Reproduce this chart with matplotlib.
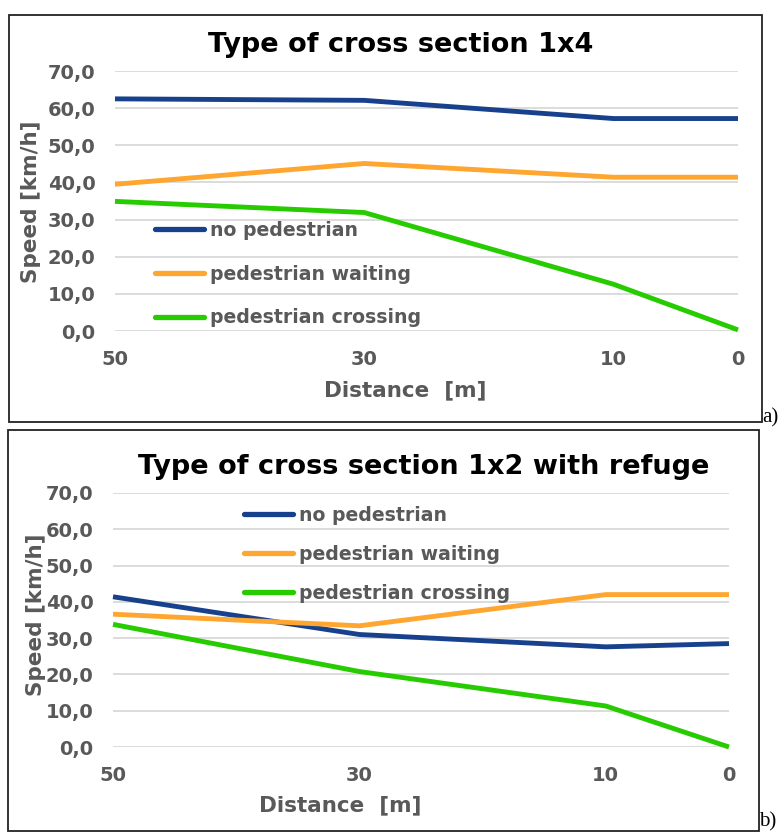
import matplotlib
matplotlib.use("Agg")
import matplotlib.pyplot as plt
from matplotlib.patches import Rectangle

# =========================================
# DATA
# =========================================
distance = [50, 30, 10, 0]
series_names = ["no pedestrian", "pedestrian waiting", "pedestrian crossing"]

speed_1x4_none = [62.5, 62.1, 57.2, 57.2]
speed_1x4_waiting = [39.5, 45.1, 41.4, 41.4]
speed_1x4_crossing = [34.9, 31.9, 12.6, 0.3]

speed_1x2_none = [41.4, 31.0, 27.6, 28.5]
speed_1x2_waiting = [36.6, 33.4, 42.0, 42.0]
speed_1x2_crossing = [33.8, 20.8, 11.3, 0.0]

y_ticks = [0, 10, 20, 30, 40, 50, 60, 70]
y_tick_labels = ["0,0", "10,0", "20,0", "30,0", "40,0", "50,0", "60,0", "70,0"]
x_ticks = [50, 30, 10, 0]
x_tick_labels = ["50", "30", "10", "0"]

titles = ["Type of cross section 1x4", "Type of cross section 1x2 with refuge"]

colors = ["#17418c", "#ffa630", "#26cc00"]
gray = "#595959"

W, H = 782, 832
plt.rcParams["font.family"] = ["DejaVu Sans"]
plt.rcParams["font.weight"] = "bold"

fig = plt.figure(figsize=(W / 100, H / 100), dpi=100)


def fx(x):
    return x / W


def fy(y):
    return 1 - y / H


def panel(box, plot, data, title, title_pos, xlabel_pos, ylabel_pos,
          legend_pos, legend_spacing, tag, tag_pos):
    # outer box
    bx0, by0, bx1, by1 = box
    fig.patches.append(Rectangle(
        (fx(bx0), fy(by1)), fx(bx1 - bx0), (by1 - by0) / H,
        transform=fig.transFigure, fill=False,
        edgecolor="#222222", linewidth=1.3
    ))

    x0, y0, x1, y1 = plot
    ax = fig.add_axes([fx(x0), fy(y1), fx(x1 - x0), (y1 - y0) / H])

    for values, name, c in zip(data, series_names, colors):
        ax.plot(distance, values, color=c, linewidth=3.5,
                solid_capstyle="butt", label=name, zorder=3,
                clip_on=False)

    ax.set_xlim(50, 0)
    ax.set_ylim(0, 70)
    ax.set_yticks(y_ticks)
    ax.set_yticklabels(y_tick_labels)
    ax.set_xticks(x_ticks)
    ax.set_xticklabels(x_tick_labels)
    ax.tick_params(axis="y", length=0, pad=14, labelsize=14,
                   labelcolor=gray)
    ax.tick_params(axis="x", length=0, pad=14, labelsize=14,
                   labelcolor=gray)
    for lab in ax.get_xticklabels() + ax.get_yticklabels():
        lab.set_fontweight("bold")
    ax.grid(axis="y", color="#d9d9d9", linewidth=1.3, zorder=0)
    ax.set_axisbelow(True)
    for s in ax.spines.values():
        s.set_visible(False)

    fig.text(fx(title_pos[0]), fy(title_pos[1]), title,
             ha="center", va="center", fontsize=19.5,
             fontweight="bold", color="black")
    fig.text(fx(xlabel_pos[0]), fy(xlabel_pos[1]), "Distance  [m]",
             ha="center", va="center", fontsize=15.5,
             fontweight="bold", color=gray)
    fig.text(fx(ylabel_pos[0]), fy(ylabel_pos[1]), "Speed [km/h]",
             ha="center", va="center", fontsize=15.5, rotation=90,
             fontweight="bold", color=gray)

    leg = ax.legend(loc="upper left",
                    bbox_to_anchor=(fx(legend_pos[0]), fy(legend_pos[1])),
                    bbox_transform=fig.transFigure,
                    frameon=False, handlelength=2.6, handletextpad=0.3,
                    labelspacing=legend_spacing, borderpad=0,
                    borderaxespad=0,
                    prop={"size": 13.6, "weight": "bold"})
    for t in leg.get_texts():
        t.set_color(gray)
    for h in leg.get_lines():
        h.set_linewidth(3.8)
        h.set_solid_capstyle("round")

    fig.text(fx(tag_pos[0]), fy(tag_pos[1]), tag, ha="left", va="bottom",
             fontsize=15, family="Liberation Serif", fontweight="normal",
             color="black")
    return ax


panel(box=(9, 15, 762, 422), plot=(115, 71, 738, 331),
      data=[speed_1x4_none, speed_1x4_waiting, speed_1x4_crossing],
      title=titles[0], title_pos=(401, 45), xlabel_pos=(405, 390),
      ylabel_pos=(31, 202), legend_pos=(155, 221), legend_spacing=1.3,
      tag="a)", tag_pos=(762, 427))

panel(box=(8, 430, 759, 831), plot=(113, 493, 729, 747),
      data=[speed_1x2_none, speed_1x2_waiting, speed_1x2_crossing],
      title=titles[1], title_pos=(424, 467), xlabel_pos=(340, 805),
      ylabel_pos=(36, 615), legend_pos=(244, 506), legend_spacing=1.05,
      tag="b)", tag_pos=(759, 831))

fig.savefig("out.png", dpi=100)
